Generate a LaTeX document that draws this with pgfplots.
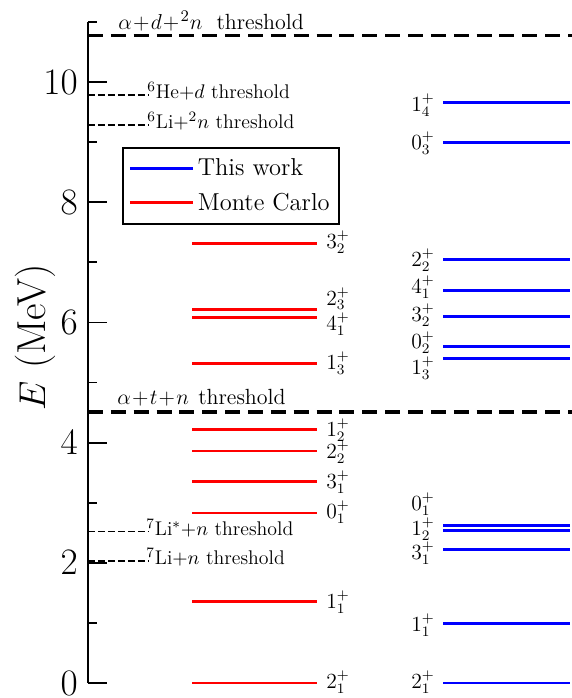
\documentclass[border=0pt]{standalone}
\usepackage{pgfplots}
\usepackage{pgfplotstable}
\pgfplotsset{compat=1.18}

\pgfplotstableread{
x y
443 9.66
570 9.66
nan nan
443 9.00
570 9.00
nan nan
443 7.05
570 7.05
nan nan
443 6.53
570 6.53
nan nan
443 6.10
570 6.10
nan nan
443 5.60
570 5.60
nan nan
443 5.40
570 5.40
nan nan
443 2.615
570 2.615
nan nan
443 2.545
570 2.545
nan nan
443 2.22
570 2.22
nan nan
443 0.99
570 0.99
nan nan
443 0.00
570 0.00
}\bluelevels

\pgfplotstableread{
x y
192 7.32
317 7.32
nan nan
192 6.21
317 6.21
nan nan
192 6.08
317 6.08
nan nan
192 5.32
317 5.32
nan nan
192 4.22
317 4.22
nan nan
192 3.86
317 3.86
nan nan
192 3.36
317 3.36
nan nan
192 2.83
317 2.83
nan nan
192 1.35
317 1.35
nan nan
192 0.00
317 0.00
}\redlevels

\begin{document}
\begin{tikzpicture}
\path[use as bounding box] (0,0) rectangle (317.78pt,387.78pt);
\begin{axis}[
  at={(48.89pt,8.33pt)}, anchor=south west,
  scale only axis, width=268.89pt, height=367.22pt,
  xmin=88, xmax=572, ymin=0, ymax=11,
  clip=false,
  axis x line=none, axis y line*=left,
  axis line style={line width=1pt},
  ytick={0,2,4,6,8,10},
  minor ytick={1,3,5,7,9,11},
  tick align=inside,
  major tick length=10.5pt, minor tick length=5pt,
  every tick/.style={black, line width=1pt},
  yticklabel style={font=\fontsize{22}{26}\selectfont, inner xsep=0pt, xshift=-5.5pt},
  ylabel={$E$ (MeV)},
  ylabel style={font=\fontsize{22.5}{27}\selectfont, at={(axis description cs:-0.1095,0.5227)}, anchor=center},
  unbounded coords=jump,
  legend style={at={(0.0702,0.8109)}, anchor=north west, draw=black, line width=1.1pt,
    font=\fontsize{13.6}{16}\selectfont, inner xsep=3pt, inner ysep=4pt, row sep=4pt},
  legend cell align=left,
  legend image code/.code={\draw[#1, line width=1.6pt] (0pt,0pt) -- (35pt,0pt);},
]
\addplot[blue, line width=1.6pt] table[x=x,y=y] {\bluelevels};
\addlegendentry{This work}
\addplot[red, line width=1.6pt] table[x=x,y=y] {\redlevels};
\addlegendentry{Monte Carlo}

% thresholds
\addplot[black, line width=1.7pt, dash pattern=on 8.3pt off 4.4pt, forget plot] coordinates {(88,10.77) (572,10.77)};
\addplot[black, line width=1.7pt, dash pattern=on 8.3pt off 4.4pt, forget plot] coordinates {(88,4.51) (572,4.51)};
\addplot[black, line width=0.6pt, dash pattern=on 3.7pt off 1.85pt, forget plot] coordinates {(88,9.785) (148,9.785)};
\addplot[black, line width=0.6pt, dash pattern=on 3.7pt off 1.85pt, forget plot] coordinates {(88,9.286) (148,9.286)};
\addplot[black, line width=0.6pt, dash pattern=on 3.7pt off 1.85pt, forget plot] coordinates {(88,2.52) (148,2.52)};
\addplot[black, line width=0.6pt, dash pattern=on 3.7pt off 1.85pt, forget plot] coordinates {(88,2.03) (148,2.03)};

\begin{scope}[every node/.style={inner sep=0pt, font=\fontsize{12.2}{14}\selectfont}]
\node[anchor=base west] at (axis cs:118,10.88) {$\alpha\mkern1mu{+}\mkern1mu d\mkern1mu{+}\mkern1mu{}^2n$\hspace{7.8pt}threshold};
\node[anchor=base west] at (axis cs:117,4.63) {$\alpha\mkern1mu{+}\mkern1mu t\mkern1mu{+}\mkern1mu n$\hspace{5.2pt}threshold};
\end{scope}
\begin{scope}[every node/.style={inner sep=0pt, anchor=mid west, font=\fontsize{11}{13}\selectfont}]
\node at (axis cs:147,9.785) {$^6$He$+d$ threshold};
\node at (axis cs:147,9.286) {$^6$Li$+{}^2n$ threshold};
\node at (axis cs:146,2.52) {$^7$Li$^*$$+n$ threshold};
\node at (axis cs:146,2.03) {$^7$Li$+n$ threshold};
\end{scope}

% red labels
\begin{scope}[every node/.style={inner sep=0pt, anchor=base west, yshift=-3.7pt, font=\fontsize{11.5}{13}\selectfont}]
\node at (axis cs:326,7.34) {$3_2^+$};
\node at (axis cs:326,6.40) {$2_3^+$};
\node at (axis cs:326,5.97) {$4_1^+$};
\node at (axis cs:326,5.33) {$1_3^+$};
\node at (axis cs:326,4.21) {$1_2^+$};
\node at (axis cs:326,3.84) {$2_2^+$};
\node at (axis cs:326,3.35) {$3_1^+$};
\node at (axis cs:326,2.85) {$0_1^+$};
\node at (axis cs:326,1.35) {$1_1^+$};
\node at (axis cs:326,0.02) {$2_1^+$};
\end{scope}
% blue labels
\begin{scope}[every node/.style={inner sep=0pt, anchor=base east, yshift=-3.7pt, font=\fontsize{11.5}{13}\selectfont}]
\node at (axis cs:435,9.62) {$1_4^+$};
\node at (axis cs:435,8.99) {$0_3^+$};
\node at (axis cs:435,7.04) {$2_2^+$};
\node at (axis cs:435,6.59) {$4_1^+$};
\node at (axis cs:435,6.12) {$3_2^+$};
\node at (axis cs:435,5.67) {$0_2^+$};
\node at (axis cs:435,5.24) {$1_3^+$};
\node at (axis cs:435,2.98) {$0_1^+$};
\node at (axis cs:435,2.56) {$1_2^+$};
\node at (axis cs:435,2.16) {$3_1^+$};
\node at (axis cs:435,0.97) {$1_1^+$};
\node at (axis cs:435,0.02) {$2_1^+$};
\end{scope}
\end{axis}
\end{tikzpicture}
\end{document}
